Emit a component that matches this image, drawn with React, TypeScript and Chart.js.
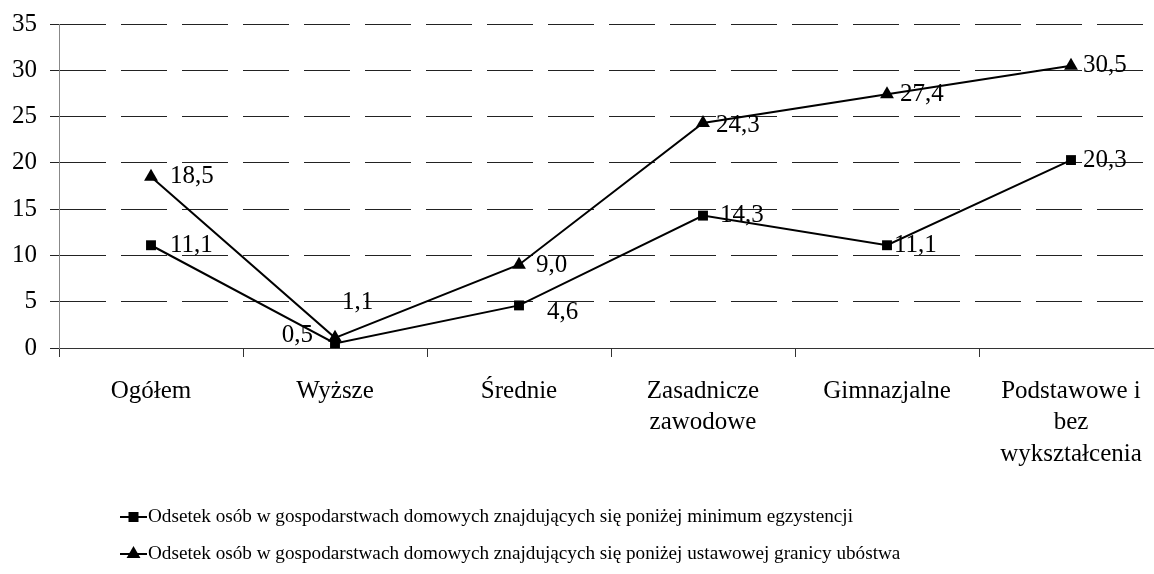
import React, { useEffect, useRef } from "react";
import { Chart, registerables } from "chart.js";

Chart.register(...registerables);

const categories: (string | string[])[] = [
  "Ogółem",
  "Wyższe",
  "Średnie",
  ["Zasadnicze", "zawodowe"],
  "Gimnazjalne",
  ["Podstawowe i", "bez", "wykształcenia"],
];

const minimumEgzystencji = [11.1, 0.5, 4.6, 14.3, 11.1, 20.3];
const granicaUbostwa = [18.5, 1.1, 9.0, 24.3, 27.4, 30.5];

const seriesNames = [
  "Odsetek osób w gospodarstwach domowych znajdujących się poniżej minimum egzystencji",
  "Odsetek osób w gospodarstwach domowych znajdujących się poniżej ustawowej granicy ubóstwa",
];

const yTicks = [0, 5, 10, 15, 20, 25, 30, 35];

// label placement tweaks (dx, dy, align) per dataset & point
const labelPlacement = [
  [
    [19, 0, "left"],
    [-22, -8, "right"],
    [28, 7, "left"],
    [17, 0, "left"],
    [7, 0, "left"],
    [12, 0, "left"],
  ],
  [
    [19, 0, "left"],
    [7, -35, "left"],
    [17, 1, "left"],
    [13, 2, "left"],
    [13, 0, "left"],
    [12, 0, "left"],
  ],
];

const FONT = "'Liberation Serif', 'Times New Roman', serif";

const fmt = (v: number) => v.toFixed(1).replace(".", ",");

const dataLabelPlugin = {
  id: "dataLabels",
  afterDatasetsDraw(chart: any) {
    const ctx = chart.ctx;
    ctx.save();
    ctx.font = `25px ${FONT}`;
    ctx.fillStyle = "#000";
    ctx.textBaseline = "middle";
    chart.data.datasets.forEach((ds: any, di: number) => {
      const meta = chart.getDatasetMeta(di);
      meta.data.forEach((pt: any, i: number) => {
        const [dx, dy, align] = labelPlacement[di][i] as [number, number, string];
        ctx.textAlign = align;
        ctx.fillText(fmt(ds.data[i]), pt.x + dx, pt.y + dy);
      });
    });
    ctx.restore();
  },
};

const legendPlugin = {
  id: "customLegend",
  afterDraw(chart: any) {
    const ctx = chart.ctx;
    ctx.save();
    const rows = [517, 554];
    chart.data.datasets.forEach((ds: any, di: number) => {
      const y = rows[di];
      ctx.strokeStyle = "#000";
      ctx.lineWidth = 2;
      ctx.beginPath();
      ctx.moveTo(120, y);
      ctx.lineTo(147, y);
      ctx.stroke();
      ctx.fillStyle = "#000";
      const cx = 133.5;
      if (ds.pointStyle === "rect") {
        ctx.fillRect(cx - 5, y - 5, 10, 10);
      } else {
        const r = 8;
        ctx.beginPath();
        ctx.moveTo(cx, y - r);
        ctx.lineTo(cx + r * 0.866, y + r / 2);
        ctx.lineTo(cx - r * 0.866, y + r / 2);
        ctx.closePath();
        ctx.fill();
      }
      ctx.font = `19.2px ${FONT}`;
      ctx.textAlign = "left";
      ctx.textBaseline = "middle";
      ctx.fillText(ds.label, 148, y);
    });
    ctx.restore();
  },
};

export default function App() {
  const ref = useRef<HTMLCanvasElement | null>(null);

  useEffect(() => {
    if (!ref.current) return;
    const chart = new Chart(ref.current, {
      type: "line",
      data: {
        labels: categories,
        datasets: [
          {
            label: seriesNames[0],
            data: minimumEgzystencji,
            borderColor: "#000",
            backgroundColor: "#000",
            borderWidth: 2,
            pointStyle: "rect",
            pointRadius: 7,
            pointBorderWidth: 0,
            pointBackgroundColor: "#000",
            tension: 0,
          },
          {
            label: seriesNames[1],
            data: granicaUbostwa,
            borderColor: "#000",
            backgroundColor: "#000",
            borderWidth: 2,
            pointStyle: "triangle",
            pointRadius: 8,
            pointBorderWidth: 0,
            pointBackgroundColor: "#000",
            tension: 0,
          },
        ],
      },
      options: {
        responsive: false,
        animation: false,
        devicePixelRatio: 1,
        layout: { padding: { top: 24, left: 0, right: 0, bottom: 96 } },
        plugins: {
          legend: { display: false },
          tooltip: { enabled: false },
        },
        scales: {
          x: {
            type: "category",
            offset: true,
            grid: {
              display: true,
              drawOnChartArea: false,
              drawTicks: true,
              offset: true,
              tickLength: 9,
              color: "#333",
              tickColor: "#333",
            },
            border: { display: true, color: "#333", width: 1 },
            ticks: {
              color: "#000",
              font: { family: FONT, size: 25, lineHeight: 1.25 },
              padding: 19,
              maxRotation: 0,
              minRotation: 0,
              autoSkip: false,
            },
            afterFit(scale: any) {
              scale.height = 130;
              scale.paddingLeft = 0;
              scale.paddingRight = 0;
            },
          },
          y: {
            min: 0,
            max: 35,
            afterBuildTicks(scale: any) {
              scale.ticks = yTicks.map((v) => ({ value: v }));
            },
            grid: {
              display: true,
              drawOnChartArea: true,
              drawTicks: true,
              tickLength: 9,
              color: "#222",
              tickColor: "#222",
              lineWidth: 1,
            },
            border: { display: true, color: "#888", width: 1, dash: [46, 15] },
            ticks: {
              color: "#000",
              font: { family: FONT, size: 25 },
              padding: 13,
            },
            afterFit(scale: any) {
              scale.width = 59;
              scale.paddingTop = 0;
              scale.paddingBottom = 0;
            },
          },
        },
      },
      plugins: [dataLabelPlugin, legendPlugin],
    } as any);
    return () => chart.destroy();
  }, []);

  return (
    <div
      style={{
        position: "fixed",
        left: 0,
        top: 0,
        width: 1154,
        height: 574,
        overflow: "hidden",
        background: "#fff",
      }}
    >
      <canvas ref={ref} width={1171} height={574} style={{ display: "block" }} />
    </div>
  );
}
